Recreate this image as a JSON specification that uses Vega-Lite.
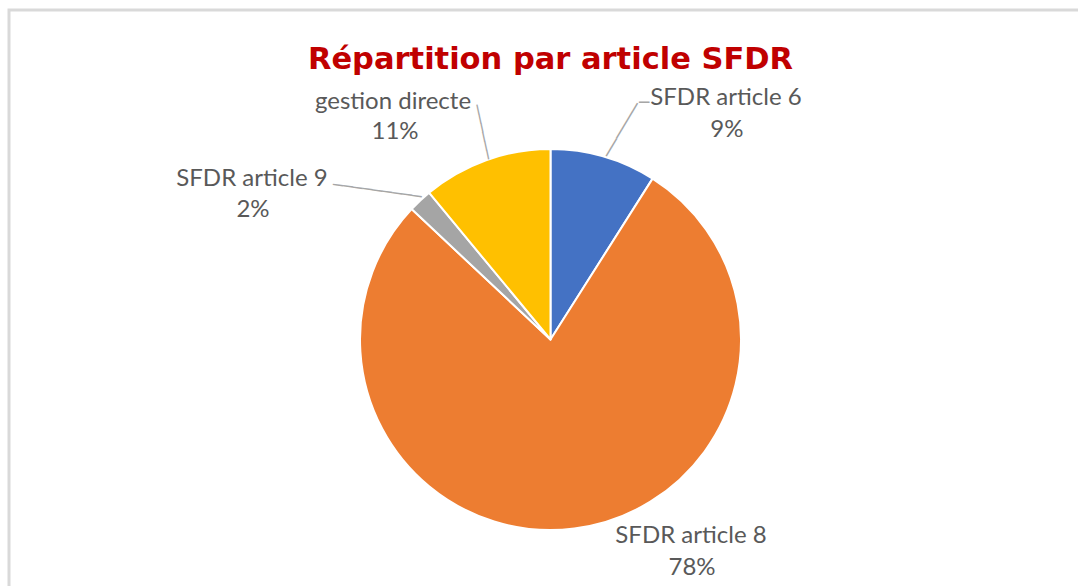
{
  "$schema": "https://vega.github.io/schema/vega-lite/v6.json",
  "autosize": {"type": "none"},
  "width": 1083,
  "height": 659,
  "padding": {"left": 9, "top": 10, "right": -14, "bottom": -83},
  "background": "white",
  "view": {"stroke": "#d9d9d9", "strokeWidth": 3},
  "config": {"view": {"stroke": "#d9d9d9", "strokeWidth": 3}},
  "title": {"text": "Répartition par article SFDR", "font": "DejaVu Sans", "fontSize": 30.5, "fontWeight": "bold", "color": "#C00000", "anchor": "middle", "baseline": "alphabetic", "offset": -89},
  "data": {"values": [
    {"cat": "SFDR article 6", "share": 0.09},
    {"cat": "SFDR article 8", "share": 0.78},
    {"cat": "SFDR article 9", "share": 0.02},
    {"cat": "gestion directe", "share": 0.11}
  ]},
  "encoding": {
    "theta": {"field": "share", "type": "quantitative", "stack": true},
    "order": {"field": "cat", "type": "ordinal", "sort": "ascending"}
  },
  "layer": [
    {"mark": {"type": "arc", "outerRadius": 190.5, "stroke": "white", "strokeWidth": 2, "strokeJoin": "round"},
     "encoding": {"color": {"field": "cat", "type": "nominal", "scale": {"domain": ["SFDR article 6", "SFDR article 8", "SFDR article 9", "gestion directe"], "range": ["#4472C4", "#ED7D31", "#A5A5A5", "#FFC000"]}, "legend": null}}},

    {"mark": {"type": "text", "radius": 221.5, "angle": 300.6, "dx": 2.44, "dy": 10.41, "align": "center", "baseline": "middle", "font": "DejaVu Sans Mono", "fontSize": 17, "color": "#a6a6a6"},
     "encoding": {"detail": {"field": "cat"}, "text": {"condition": {"test": "datum.cat === 'SFDR article 6'", "value": "──────"}, "value": ""}}},
    {"mark": {"type": "text", "radius": 245, "dx": 25.3, "dy": -0.9, "align": "center", "baseline": "middle", "font": "DejaVu Sans Mono", "fontSize": 17, "color": "#a6a6a6"},
     "encoding": {"detail": {"field": "cat"}, "text": {"condition": {"test": "datum.cat === 'SFDR article 6'", "value": "─"}, "value": ""}}},
    {"mark": {"type": "text", "radius": 218.2, "angle": 77.9, "dx": -0.72, "dy": -6.19, "align": "center", "baseline": "middle", "font": "DejaVu Sans Mono", "fontSize": 15.4, "color": "#a6a6a6"},
     "encoding": {"detail": {"field": "cat"}, "text": {"condition": {"test": "datum.cat === 'gestion directe'", "value": "──────"}, "value": ""}}},
    {"mark": {"type": "text", "radius": 228, "angle": 7.9, "dx": -14.47, "dy": 20.04, "align": "center", "baseline": "middle", "font": "DejaVu Sans Mono", "fontSize": 16.5, "color": "#a6a6a6"},
     "encoding": {"detail": {"field": "cat"}, "text": {"condition": {"test": "datum.cat === 'SFDR article 9'", "value": "─────────"}, "value": ""}}},

    {"mark": {"type": "text", "radius": 245, "dx": 107.1, "dy": 0.8, "align": "center", "baseline": "alphabetic", "font": "Lato", "fontSize": 24, "color": "#595959"},
     "encoding": {"detail": {"field": "cat"}, "text": {"condition": {"test": "datum.cat === 'SFDR article 6'", "field": "cat", "type": "nominal"}, "value": ""}}},
    {"mark": {"type": "text", "radius": 245, "dx": 108.1, "dy": 32.5, "align": "center", "baseline": "alphabetic", "font": "Lato", "fontSize": 24, "color": "#595959"},
     "encoding": {"detail": {"field": "cat"}, "text": {"condition": {"test": "datum.cat === 'SFDR article 6'", "field": "share", "type": "quantitative", "format": ".0%"}, "value": ""}}},

    {"mark": {"type": "text", "radius": 245, "dx": -74.5, "dy": 0.3, "align": "center", "baseline": "alphabetic", "font": "Lato", "fontSize": 24, "color": "#595959"},
     "encoding": {"detail": {"field": "cat"}, "text": {"condition": {"test": "datum.cat === 'gestion directe'", "field": "cat", "type": "nominal"}, "value": ""}}},
    {"mark": {"type": "text", "radius": 245, "dx": -72.5, "dy": 30.3, "align": "center", "baseline": "alphabetic", "font": "Lato", "fontSize": 24, "color": "#595959"},
     "encoding": {"detail": {"field": "cat"}, "text": {"condition": {"test": "datum.cat === 'gestion directe'", "field": "share", "type": "quantitative", "format": ".0%"}, "value": ""}}},

    {"mark": {"type": "text", "radius": 230, "dx": -141.1, "dy": 13.7, "align": "center", "baseline": "alphabetic", "font": "Lato", "fontSize": 24, "color": "#595959"},
     "encoding": {"detail": {"field": "cat"}, "text": {"condition": {"test": "datum.cat === 'SFDR article 9'", "field": "cat", "type": "nominal"}, "value": ""}}},
    {"mark": {"type": "text", "radius": 230, "dx": -140.1, "dy": 44.9, "align": "center", "baseline": "alphabetic", "font": "Lato", "fontSize": 24, "color": "#595959"},
     "encoding": {"detail": {"field": "cat"}, "text": {"condition": {"test": "datum.cat === 'SFDR article 9'", "field": "share", "type": "quantitative", "format": ".0%"}, "value": ""}}},

    {"mark": {"type": "text", "radius": 205, "dx": 114.8, "dy": 0.4, "align": "center", "baseline": "alphabetic", "font": "Lato", "fontSize": 24, "color": "#595959"},
     "encoding": {"detail": {"field": "cat"}, "text": {"condition": {"test": "datum.cat === 'SFDR article 8'", "field": "cat", "type": "nominal"}, "value": ""}}},
    {"mark": {"type": "text", "radius": 205, "dx": 115.8, "dy": 32.1, "align": "center", "baseline": "alphabetic", "font": "Lato", "fontSize": 24, "color": "#595959"},
     "encoding": {"detail": {"field": "cat"}, "text": {"condition": {"test": "datum.cat === 'SFDR article 8'", "field": "share", "type": "quantitative", "format": ".0%"}, "value": ""}}}
  ]
}
